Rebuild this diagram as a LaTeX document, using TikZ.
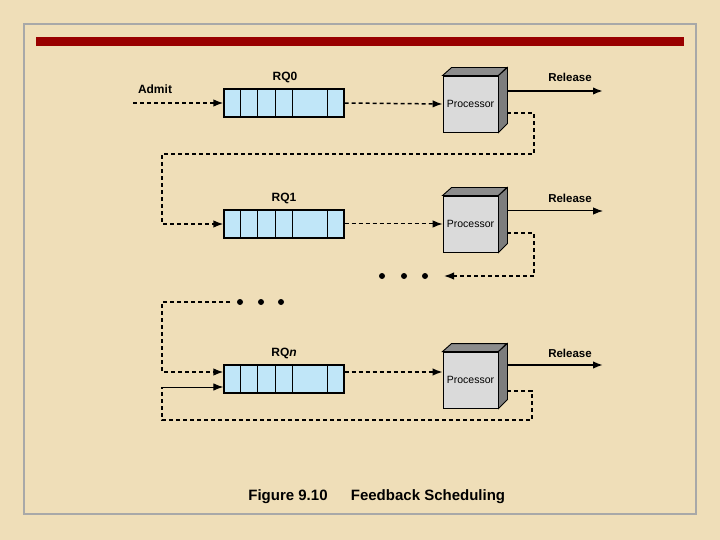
\documentclass[tikz,border=0pt]{standalone}
\usepackage{fontspec}
\setmainfont{Liberation Sans}
\usetikzlibrary{calc,arrows.meta}
\definecolor{parch}{RGB}{239,222,184}
\definecolor{framegray}{RGB}{168,168,168}
\definecolor{barred}{RGB}{153,0,0}
\definecolor{qblue}{RGB}{192,230,248}
\definecolor{pfront}{RGB}{218,218,218}
\definecolor{ptop}{RGB}{140,140,140}
\definecolor{pside}{RGB}{125,125,125}
\tikzset{
  queuebox/.style={draw=black, line width=1.3pt, fill=qblue, minimum width=120pt, minimum height=28pt, inner sep=0pt},
  procbox/.style={draw=black, line width=0.9pt, fill=pfront, minimum width=55pt, minimum height=56pt, inner sep=0pt, font=\fontsize{10.5}{12}\selectfont},
  fb/.style={dashed, dash pattern=on 4pt off 3pt, line width=1.5pt},
  fbthin/.style={dashed, dash pattern=on 4pt off 3pt, line width=1pt},
  tip/.style={-{Latex[length=10pt,width=7.5pt]}},
  lbl/.style={font=\bfseries\fontsize{12}{14}\selectfont},
  rel/.style={font=\bfseries\fontsize{11.5}{13}\selectfont},
  captext/.style={font=\bfseries\fontsize{15}{17}\selectfont},
  dot/.style={circle, fill=black, inner sep=0pt, minimum size=6pt}
}
\newcommand{\cellsdiv}[1]{%
  \foreach \dx in {17,34,52,69,104} {
    \draw[line width=0.8pt] ($(#1.north west)+(\dx,0)$) -- ($(#1.south west)+(\dx,0)$);
  }}
\newcommand{\threed}[1]{%
  \filldraw[fill=ptop, line width=0.9pt] (#1.north west) -- ++(9,-8) -- ++(55,0) -- (#1.north east) -- cycle;
  \filldraw[fill=pside, line width=0.9pt] (#1.north east) -- ++(9,-8) -- ++(0,56) -- (#1.south east) -- cycle;}
\begin{document}
\begin{tikzpicture}[x=1pt,y=-1pt]
\useasboundingbox (0,0) rectangle (720,540);
\fill[parch] (0,0) rectangle (720,540);
\draw[framegray, line width=2pt] (24,24) rectangle (696,514);
\fill[barred] (36,37) rectangle (684,46);

% queues
\node[queuebox] (q0) at (284,103) {};
\node[queuebox] (q1) at (284,224) {};
\node[queuebox] (qn) at (284,379) {};
\cellsdiv{q0}\cellsdiv{q1}\cellsdiv{qn}

% processors
\node[procbox] (p0) at (470.5,104) {Processor};
\node[procbox] (p1) at (470.5,224) {Processor};
\node[procbox] (pn) at (470.5,380) {Processor};
\threed{p0}\threed{p1}\threed{pn}

% labels
\node[lbl] (ladm) at (155,89) {Admit};
\node[lbl] (l0) at (285,77) {RQ0};
\node[lbl] (l1) at (284,198) {RQ1};
\node[lbl] (ln) at (284,353) {RQ\textit{n}};
\node[rel] (r0l) at (570,77) {Release};
\node[rel] (r1l) at (570,198) {Release};
\node[rel] (rnl) at (570,353) {Release};

% coordinates
\coordinate (adm) at (133,103);
\coordinate (r0) at (603,91);
\coordinate (r1) at (603,211);
\coordinate (rn) at (603,365);
\coordinate (c0a) at (534,154);
\coordinate (c0b) at (162,224);
\coordinate (c1a) at (534,276);
\coordinate (c1b) at (444,276);
\coordinate (c2a) at (230,302);
\coordinate (c2b) at (162,302);
\coordinate (cna) at (532,420);
\coordinate (cnb) at (162,387);

% RQ0 row
\draw[fb, tip] (adm) -- (q0.west);
\draw[fb, tip] (q0.east) -- (p0.west);
\draw[line width=2pt, tip] ($(p0.east)+(9,-13)$) -- (r0);
\draw[fb, tip] ($(p0.east)+(9,9)$) -| (c0a) -| (c0b) -- (q1.west);

% RQ1 row
\draw[fbthin, tip] (q1.east) -- (p1.west);
\draw[line width=1pt, tip] ($(p1.east)+(9,-13)$) -- (r1);
\draw[fb, tip] ($(p1.east)+(9,9)$) -| (c1a) -- (c1b);
\node[dot] (d1) at (382,276) {};
\node[dot] (d2) at (404,276) {};
\node[dot] (d3) at (425,276) {};

% lower dots
\node[dot] (d4) at (240,302) {};
\node[dot] (d5) at (261,302) {};
\node[dot] (d6) at (281,302) {};
\draw[fb, tip] (c2a) -- (c2b) -- (162,372) -- ($(qn.west)+(0,-7)$);

% RQn row
\draw[fb, tip] ($(qn.east)+(0,-7)$) -- ($(pn.west)+(0,-8)$);
\draw[line width=1.6pt, tip] ($(pn.east)+(9,-15)$) -- (rn);
\draw[fb] ($(pn.east)+(9,11)$) -| (cna) -| (cnb);
\draw[line width=1pt, tip] (cnb) -- ($(qn.west)+(0,8)$);

% caption
\node[captext] (cap1) at (288,497) {Figure 9.10};
\node[captext] (cap2) at (428,497) {Feedback Scheduling};
\end{tikzpicture}
\end{document}
